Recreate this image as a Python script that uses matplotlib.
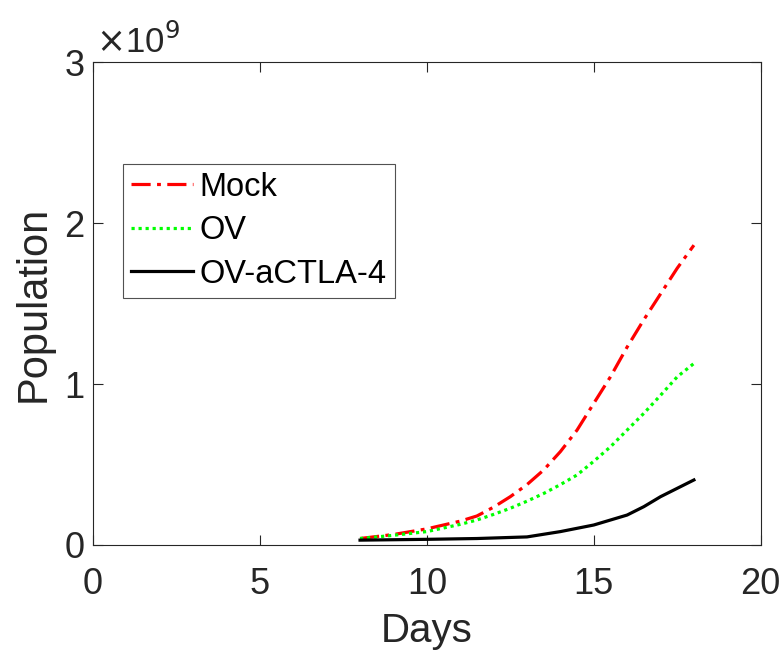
import matplotlib
matplotlib.use("Agg")
import matplotlib.pyplot as plt
from matplotlib.ticker import FuncFormatter

plt.rcParams['font.family'] = ['Liberation Sans', 'DejaVu Sans']

days = [8, 9, 10, 11, 11.5, 12, 12.5, 13, 13.5, 14, 14.5, 15, 15.5, 16, 16.5, 17, 17.5, 18]
mock = [0.04e9, 0.065e9, 0.10e9, 0.148e9, 0.18e9, 0.235e9, 0.30e9, 0.375e9, 0.466e9,
        0.58e9, 0.714e9, 0.88e9, 1.045e9, 1.23e9, 1.40e9, 1.56e9, 1.72e9, 1.863e9]
ov = [0.04e9, 0.06e9, 0.083e9, 0.128e9, 0.155e9, 0.19e9, 0.228e9, 0.272e9, 0.32e9,
      0.375e9, 0.435e9, 0.52e9, 0.61e9, 0.714e9, 0.818e9, 0.93e9, 1.045e9, 1.128e9]
days_c = [8, 10, 11.5, 13, 14, 15, 16, 16.5, 17, 17.5, 18]
ctla = [0.03e9, 0.035e9, 0.04e9, 0.05e9, 0.083e9, 0.124e9, 0.186e9, 0.238e9,
        0.30e9, 0.352e9, 0.404e9]

xticks = [0, 5, 10, 15, 20]
yticks = [0, 1e9, 2e9, 3e9]

fig = plt.figure(figsize=(7.81, 6.55), dpi=100)
ax = fig.add_axes([0.119, 0.168, 0.855, 0.737])

ax.plot(days, mock, color=(1, 0, 0), lw=2.3, linestyle=(0, (6, 2, 1.2, 2)), label='Mock')
ax.plot(days, ov, color=(0, 1, 0), lw=2.3, linestyle=(0, (1, 1.2)), label='OV')
ax.plot(days_c, ctla, color='black', lw=2.3, linestyle='-', label='OV-aCTLA-4')

ax.set_xlim(0, 20)
ax.set_ylim(0, 3e9)
ax.set_xticks(xticks)
ax.set_yticks(yticks)
ax.yaxis.set_major_formatter(FuncFormatter(lambda v, p: f"{v/1e9:g}"))

gray = (0.15, 0.15, 0.15)
for s in ax.spines.values():
    s.set_color(gray)
    s.set_linewidth(0.8)
ax.tick_params(direction='in', length=7, width=0.8, colors=gray,
               labelsize=26, top=True, right=True)
ax.tick_params(axis='x', pad=16)
ax.tick_params(axis='y', pad=6)

ax.set_xlabel('Days', fontsize=29, color=gray, labelpad=7)
ax.set_ylabel('Population', fontsize=30, color=gray, labelpad=8)

ax.text(0.005, 1.005, r'$\times$10$^{9}$', transform=ax.transAxes,
        fontsize=25, color=gray, ha='left', va='bottom')

leg = ax.legend(loc='upper left', bbox_to_anchor=(0.045, 0.79), fontsize=23.5,
                frameon=True, fancybox=False, handlelength=1.9, handletextpad=0.2,
                borderpad=0.25, labelspacing=0.38, borderaxespad=0)
leg.get_frame().set_edgecolor(gray)
leg.get_frame().set_linewidth(0.8)

fig.savefig('out.png', dpi=100)
